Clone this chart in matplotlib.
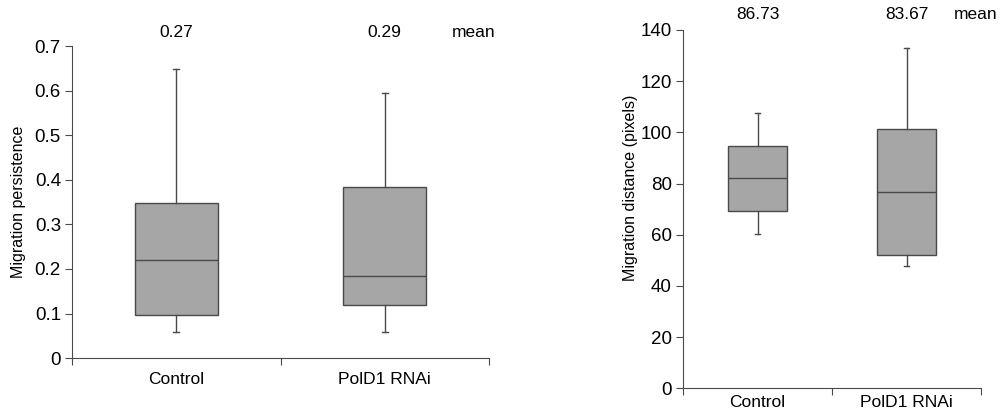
import matplotlib
matplotlib.use("Agg")
import matplotlib.pyplot as plt
import matplotlib.ticker as mticker

plt.rcParams['font.family'] = ['Liberation Sans', 'DejaVu Sans']

groups = ["Control", "PolD1 RNAi"]

# migration persistence: whisker low, q1, median, q3, whisker high
persist_low = [0.059, 0.059]
persist_q1 = [0.096, 0.120]
persist_med = [0.221, 0.185]
persist_q3 = [0.348, 0.384]
persist_high = [0.648, 0.595]
persist_mean = ["0.27", "0.29"]

# migration distance (pixels)
dist_low = [60.4, 47.8]
dist_q1 = [69.4, 52.1]
dist_med = [82.0, 76.6]
dist_q3 = [94.8, 101.4]
dist_high = [107.5, 133.0]
dist_mean = ["86.73", "83.67"]

BOX_FILL = "#a6a6a6"
LINE = "#4a4a4a"


def make_stats(lo, q1, med, q3, hi):
    return [dict(whislo=lo[i], q1=q1[i], med=med[i], q3=q3[i], whishi=hi[i], fliers=[])
            for i in range(len(lo))]


def draw_panel(ax, stats, ymax, ystep, ylabel, means, fmt, xpad, mean_y):
    ax.bxp(stats, positions=[1, 2], widths=0.4, patch_artist=True,
           showfliers=False, capwidths=0.03,
           boxprops=dict(facecolor=BOX_FILL, edgecolor=LINE, linewidth=1.0),
           medianprops=dict(color=LINE, linewidth=1.0),
           whiskerprops=dict(color=LINE, linewidth=1.0),
           capprops=dict(color=LINE, linewidth=1.0))
    ax.set_xlim(0.5, 2.5)
    ax.set_ylim(0, ymax)
    ax.yaxis.set_major_locator(mticker.MultipleLocator(ystep))
    ax.yaxis.set_major_formatter(mticker.FormatStrFormatter(fmt))
    ax.set_xticks([0.5, 1.5, 2.5])
    ax.set_xticklabels([])
    ax.set_xticks([1, 2], minor=True)
    ax.set_xticklabels(groups, minor=True, fontsize=12.5)
    ax.tick_params(axis='x', which='minor', length=0, pad=xpad)
    ax.tick_params(axis='x', which='major', length=5, color=LINE)
    ax.tick_params(axis='y', length=5, color=LINE, labelsize=13.5, pad=3)
    for s in ["top", "right"]:
        ax.spines[s].set_visible(False)
    for s in ["left", "bottom"]:
        ax.spines[s].set_color(LINE)
    ax.set_ylabel(ylabel, fontsize=11.5)
    tr = ax.get_xaxis_transform()
    for i, m in enumerate(means):
        ax.text(i + 1, mean_y, m, transform=tr, ha='center', va='center', fontsize=12.5)
    ax.text(2.32, mean_y, "mean", transform=tr, ha='left', va='center', fontsize=12.5)


fig = plt.figure(figsize=(10, 4.15), dpi=100)
ax1 = fig.add_axes([0.072, 0.137, 0.417, 0.752])
ax2 = fig.add_axes([0.683, 0.064, 0.298, 0.864])

draw_panel(ax1, make_stats(persist_low, persist_q1, persist_med, persist_q3, persist_high),
           0.7, 0.1, "Migration persistence", persist_mean, "%g", 10, 1.045)
draw_panel(ax2, make_stats(dist_low, dist_q1, dist_med, dist_q3, dist_high),
           140, 20, "Migration distance (pixels)", dist_mean, "%d", 5, 1.042)
ax1.yaxis.set_label_coords(-0.11, 0.5)
ax2.yaxis.set_label_coords(-0.15, 0.56)

fig.savefig("out.png", dpi=100)
